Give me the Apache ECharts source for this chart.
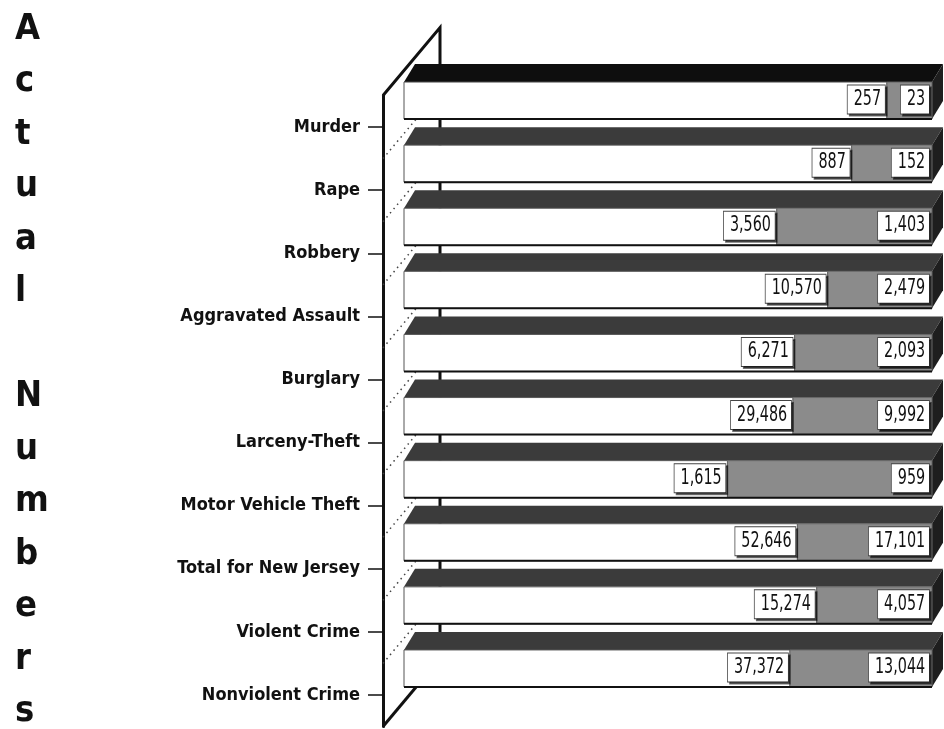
<!DOCTYPE html>
<html>
<head>
<meta charset="utf-8">
<script src="https://cdn.jsdelivr.net/npm/echarts@6/dist/echarts.min.js"></script>
<style>
  html, body { margin: 0; padding: 0; background: #fff; }
  #main { width: 944px; height: 729px; }
</style>
</head>
<body>
<div id="main"></div>
<script>
// categories, top to bottom
const categories = [
  'Murder', 'Rape', 'Robbery', 'Aggravated Assault', 'Burglary',
  'Larceny-Theft', 'Motor Vehicle Theft', 'Total for New Jersey',
  'Violent Crime', 'Nonviolent Crime'
]
// white segment (left part of each bar)
const firstValues = [257, 887, 3560, 10570, 6271, 29486, 1615, 52646, 15274, 37372]
// grey segment (right part of each bar)
const secondValues = [23, 152, 1403, 2479, 2093, 9992, 959, 17101, 4057, 13044]

const FONT = "'Liberation Sans Narrow', 'DejaVu Sans Condensed', 'Arial Narrow', sans-serif"
const fmt = v => v.toLocaleString('en-US')

// [index, share of the white part, first, second]
const barData = categories.map((c, i) => [
  i, firstValues[i] / (firstValues[i] + secondValues[i]), firstValues[i], secondValues[i]
])

// boxed value label, squeezed horizontally to look like a narrow face
function valueLabel (txt, x, y) {
  return {
    type: 'text',
    x: x,
    y: y,
    scaleX: 0.76,
    z2: 20,
    style: {
      text: txt,
      x: 0,
      y: 0,
      align: 'right',
      verticalAlign: 'middle',
      fontSize: 21,
      fontFamily: FONT,
      fill: '#111',
      backgroundColor: '#fff',
      borderColor: '#444',
      borderWidth: 1,
      padding: [4, 5, 3, 8],
      shadowColor: 'rgba(0,0,0,0.55)',
      shadowOffsetX: 2,
      shadowOffsetY: 2
    }
  }
}

function renderBar (params, api) {
  const i = api.value(0)
  const share = api.value(1)
  const p0 = api.coord([0, i])
  const pm = api.coord([share, i])
  const p1 = api.coord([1, i])
  const t = p0[1]
  const fTop = t - 45
  const fBot = t - 8
  const xl = p0[0] + 21
  const xr = p1[0]
  const dx = 11
  const dy = 18
  return {
    type: 'group',
    children: [
      { // top face
        type: 'polygon',
        shape: { points: [[xl, fTop], [xl + dx, fTop - dy], [xr + dx, fTop - dy], [xr, fTop]] },
        style: { fill: i === 0 ? '#0e0e0e' : '#3b3b3b' }
      },
      { // right side face
        type: 'polygon',
        shape: { points: [[xr, fTop], [xr + dx, fTop - dy], [xr + dx, fBot - dy], [xr, fBot]] },
        style: { fill: '#1e1e1e' }
      },
      {
        type: 'rect',
        shape: { x: xl, y: fTop, width: pm[0] - xl, height: fBot - fTop },
        style: { fill: '#fff', stroke: '#555', lineWidth: 1 }
      },
      {
        type: 'rect',
        shape: { x: pm[0], y: fTop, width: xr - pm[0], height: fBot - fTop },
        style: { fill: '#8b8b8b', stroke: '#666', lineWidth: 1 }
      },
      {
        type: 'line',
        shape: { x1: xl, y1: fBot, x2: xr, y2: fBot },
        style: { stroke: '#111', lineWidth: 2 }
      },
      valueLabel(fmt(api.value(2)), pm[0] - 2, (fTop + fBot) / 2 - 1),
      valueLabel(fmt(api.value(3)), xr - 3, (fTop + fBot) / 2 - 1)
    ]
  }
}

// the slanted left wall with its dotted grid lines
function renderWall (params, api) {
  const band = api.size([0, 1])[1]
  const first = api.coord([0, 0])
  const last = api.coord([0, categories.length - 1])
  const x = first[0]
  const y0 = first[1] - band / 2
  const y1 = last[1] + band / 2
  const wx = 57
  const wy = 68
  const children = [
    {
      type: 'polyline',
      shape: { points: [[x, y0], [x + wx, y0 - wy], [x + wx, y1 - wy]] },
      style: { stroke: '#111', lineWidth: 3, fill: null }
    },
    {
      type: 'line',
      shape: { x1: x, y1: y1, x2: x + wx, y2: y1 - wy },
      style: { stroke: '#111', lineWidth: 3 }
    }
  ]
  for (let k = 1; k < categories.length; k++) {
    const yb = api.coord([0, k])[1] - band / 2
    children.push({
      type: 'line',
      shape: { x1: x, y1: yb, x2: x + wx, y2: yb - wy },
      style: { stroke: '#444', lineWidth: 1.5, lineDash: [1.5, 4] }
    })
  }
  return { type: 'group', children: children }
}

const chart = echarts.init(document.getElementById('main'))
chart.setOption({
  animation: false,
  backgroundColor: '#fff',
  title: {
    text: 'A\nc\nt\nu\na\nl\n\nN\nu\nm\nb\ne\nr\ns',
    left: 15,
    top: 3,
    padding: 0,
    textStyle: {
      fontFamily: FONT,
      fontWeight: 'bold',
      fontSize: 36,
      lineHeight: 52.5,
      color: '#111'
    }
  },
  grid: {
    left: 383,
    right: 12,
    top: 95.5,
    bottom: 2.5
  },
  xAxis: {
    type: 'value',
    min: 0,
    max: 1,
    show: false
  },
  yAxis: {
    type: 'category',
    inverse: true,
    data: categories,
    axisLine: { show: true, lineStyle: { color: '#111', width: 3 } },
    axisTick: {
      show: true,
      inside: false,
      alignWithLabel: true,
      length: 15,
      lineStyle: { color: '#111', width: 1.5 }
    },
    axisLabel: {
      margin: 23,
      fontFamily: FONT,
      fontWeight: 'bold',
      fontSize: 18,
      color: '#111'
    },
    splitLine: { show: false }
  },
  series: [
    {
      type: 'custom',
      z: 1,
      renderItem: renderWall,
      data: [[0, 0]],
      encode: { x: 1, y: 0 }
    },
    {
      type: 'custom',
      z: 3,
      renderItem: renderBar,
      data: barData,
      encode: { x: 1, y: 0 }
    }
  ]
})
</script>
</body>
</html>
